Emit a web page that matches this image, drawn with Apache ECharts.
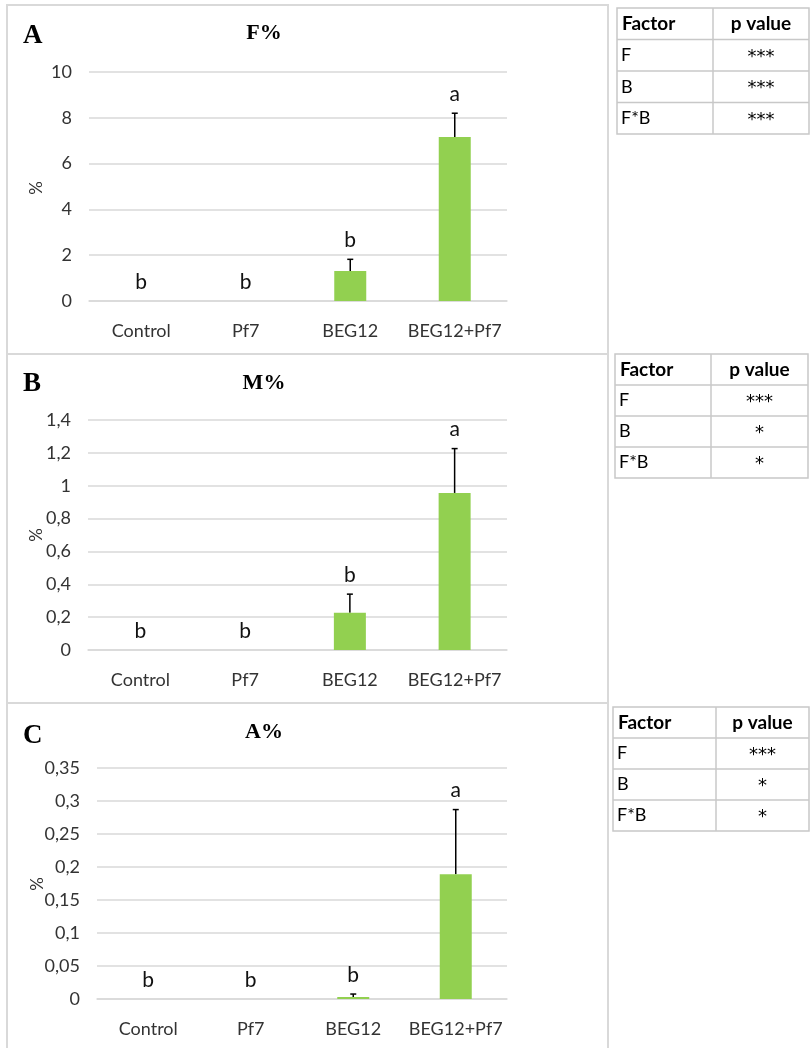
<!DOCTYPE html>
<html>
<head>
<meta charset="utf-8">
<style>
html,body{margin:0;padding:0;background:#fff;}
#chart{width:811px;height:1048px;}
</style>
<script src="https://cdn.jsdelivr.net/npm/echarts@6/dist/echarts.min.js"></script>
</head>
<body>
<div id="chart"></div>
<script>
// ---------- data ----------
const categories = ['Control', 'Pf7', 'BEG12', 'BEG12+Pf7'];

const fMean = [0, 0, 1.31, 7.16];
const fErr = [0, 0, 0.51, 1.04];
const fLetters = ['b', 'b', 'b', 'a'];

const mMean = [0, 0, 0.227, 0.956];
const mErr = [0, 0, 0.113, 0.27];
const mLetters = ['b', 'b', 'b', 'a'];

const aMean = [0, 0, 0.003, 0.189];
const aErr = [0, 0, 0.0045, 0.098];
const aLetters = ['b', 'b', 'b', 'a'];

const panelTitles = ['F%', 'M%', 'A%'];
const panelLetters = ['A', 'B', 'C'];
const yAxisName = '%';
const yMax = [10, 1.4, 0.35];
const yInterval = [2, 0.2, 0.05];

const tableHeader = ['Factor', 'p value'];
const tableFactors = ['F', 'B', 'F*B'];
const tableA = ['***', '***', '***'];
const tableB = ['***', '*', '*'];
const tableC = ['***', '*', '*'];

// ---------- layout ----------
const GREEN = '#92D050';
const GRID_C = '#d9d9d9';
const TXT = '#333333';
const FONT = 'Lato, "Open Sans", sans-serif';

const grids = [
  {left: 89, top: 72, width: 418, height: 229},
  {left: 88, top: 420, width: 419, height: 230},
  {left: 97, top: 768, width: 410, height: 231}
];
const nameX = [37, 37, 38];
const nameY = [188, 535, 884];
const panelBoxes = [[7, 5, 601, 349], [7, 354, 601, 349], [7, 703, 601, 360]];
const titleY = [33, 383, 732];
const letterY = [36, 384, 736];
const tables = [
  {x0: 617, x1: 713, x2: 809, y: 8, h: 31.5, vals: tableA},
  {x0: 615, x1: 711, x2: 808, y: 354, h: 31, vals: tableB},
  {x0: 613, x1: 716, x2: 809, y: 707, h: 31, vals: tableC}
];

const means = [fMean, mMean, aMean];
const errs = [fErr, mErr, aErr];
const letters = [fLetters, mLetters, aLetters];

function fmt(v) {
  return String(+v.toFixed(4)).replace('.', ',');
}

const xAxes = [], yAxes = [], series = [];
for (let i = 0; i < 3; i++) {
  xAxes.push({
    type: 'category', gridIndex: i, data: categories,
    axisLine: {show: true, lineStyle: {color: GRID_C, width: 1.5}},
    axisTick: {show: false},
    axisLabel: {color: TXT, fontFamily: FONT, fontSize: 18, margin: 21, interval: 0}
  });
  yAxes.push({
    type: 'value', gridIndex: i, min: 0, max: yMax[i], interval: yInterval[i],
    axisLine: {show: false}, axisTick: {show: false},
    splitLine: {lineStyle: {color: GRID_C, width: 1.5}},
    axisLabel: {color: TXT, fontFamily: FONT, fontSize: 18, margin: 17, formatter: fmt}
  });
  series.push({
    type: 'bar', xAxisIndex: i, yAxisIndex: i, data: means[i],
    barWidth: 32, itemStyle: {color: GREEN}, silent: true
  });
  const errData = means[i].map((m, k) => [k, m, m + errs[i][k], letters[i][k], errs[i][k]]);
  series.push({
    type: 'custom', xAxisIndex: i, yAxisIndex: i, data: errData, silent: true,
    renderItem: function (params, api) {
      const k = api.value(0);
      const pm = api.coord([k, api.value(1)]);
      const pt = api.coord([k, api.value(2)]);
      const children = [];
      if (api.value(4) > 0) {
        children.push({type: 'line', shape: {x1: pm[0], y1: pm[1], x2: pt[0], y2: pt[1]},
          style: {stroke: '#000', lineWidth: 1.5}});
        children.push({type: 'line', shape: {x1: pt[0] - 3, y1: pt[1], x2: pt[0] + 3, y2: pt[1]},
          style: {stroke: '#000', lineWidth: 1.5}});
      }
      children.push({type: 'text', x: pt[0], y: pt[1] - 19,
        style: {text: errData[k][3], fill: '#111', font: '21px ' + FONT,
          textAlign: 'center', textVerticalAlign: 'middle'}});
      return {type: 'group', children: children};
    }
  });
}

const graphics = [];
for (let i = 0; i < 3; i++) {
  const b = panelBoxes[i];
  graphics.push({type: 'rect', shape: {x: b[0], y: b[1], width: b[2], height: b[3]},
    style: {fill: 'none', stroke: GRID_C, lineWidth: 2}, z: -1});
  graphics.push({type: 'text', x: 264, y: titleY[i],
    style: {text: panelTitles[i], font: 'bold 22px "Liberation Serif", serif', fill: '#000',
      textAlign: 'center', textVerticalAlign: 'middle'}});
  graphics.push({type: 'text', x: 23, y: letterY[i],
    style: {text: panelLetters[i], font: 'bold 27px "Liberation Serif", serif', fill: '#000',
      textAlign: 'left', textVerticalAlign: 'middle'}});
  graphics.push({type: 'text', x: nameX[i], y: nameY[i], rotation: Math.PI / 2,
    style: {text: yAxisName, font: '17px ' + FONT, fill: TXT,
      textAlign: 'center', textVerticalAlign: 'middle'}});
  // table
  const t = tables[i];
  const tc = '#c8c8c8';
  const yb = t.y + t.h * 4;
  graphics.push({type: 'rect', shape: {x: t.x0, y: t.y, width: t.x2 - t.x0, height: t.h * 4},
    style: {fill: 'none', stroke: tc, lineWidth: 1.5}});
  graphics.push({type: 'line', shape: {x1: t.x1, y1: t.y, x2: t.x1, y2: yb},
    style: {stroke: tc, lineWidth: 1.5}});
  for (let r = 1; r < 4; r++) {
    graphics.push({type: 'line', shape: {x1: t.x0, y1: t.y + t.h * r, x2: t.x2, y2: t.y + t.h * r},
      style: {stroke: tc, lineWidth: 1.5}});
  }
  graphics.push({type: 'text', x: t.x0 + 5, y: t.y + t.h / 2,
    style: {text: tableHeader[0], font: 'bold 19px ' + FONT, fill: '#000', textVerticalAlign: 'middle'}});
  graphics.push({type: 'text', x: (t.x1 + t.x2) / 2, y: t.y + t.h / 2,
    style: {text: tableHeader[1], font: 'bold 19px ' + FONT, fill: '#000', textAlign: 'center', textVerticalAlign: 'middle'}});
  for (let r = 0; r < 3; r++) {
    graphics.push({type: 'text', x: t.x0 + 4, y: t.y + t.h * (r + 1.5),
      style: {text: tableFactors[r], font: '18px ' + FONT, fill: '#000', textVerticalAlign: 'middle'}});
    graphics.push({type: 'text', x: (t.x1 + t.x2) / 2, y: t.y + t.h * (r + 1.5) + 2,
      style: {text: t.vals[r], font: '18px "DejaVu Sans", sans-serif', fill: '#000', textAlign: 'center', textVerticalAlign: 'middle'}});
  }
}

const chart = echarts.init(document.getElementById('chart'), null, {renderer: 'canvas'});
chart.setOption({
  animation: false,
  backgroundColor: '#fff',
  grid: grids,
  xAxis: xAxes,
  yAxis: yAxes,
  series: series,
  graphic: graphics
});
</script>
</body>
</html>
